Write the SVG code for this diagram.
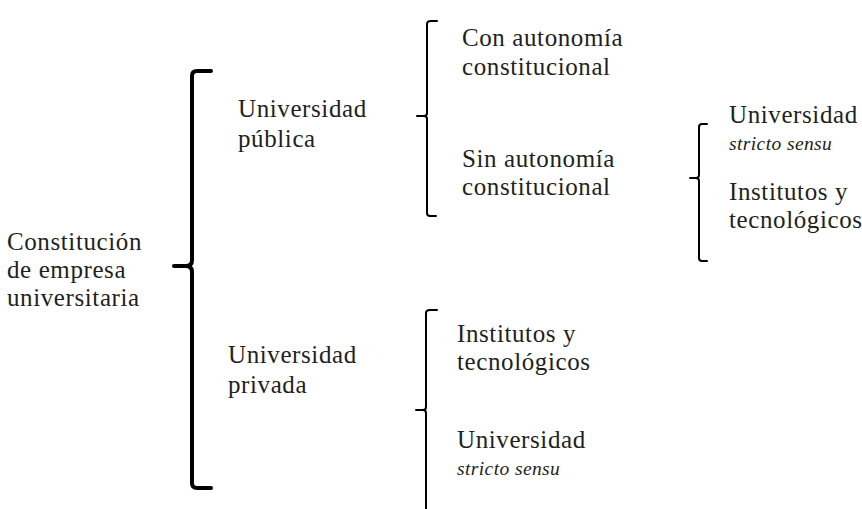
<svg xmlns="http://www.w3.org/2000/svg" width="862" height="509" viewBox="0 0 862 509">
<style>
text{font-family:"Liberation Serif","Times New Roman",serif;fill:#231f20;}
.t{font-size:25px;letter-spacing:0.6px;}
.i{font-size:19.5px;font-style:italic;letter-spacing:0.4px;}
.b{fill:none;stroke:#000;stroke-linecap:round;stroke-linejoin:round;}
.b1{stroke-width:4;}
.b2{stroke-width:2;}
</style>
<rect width="862" height="509" fill="#fff"/>
<g id="connectors">
<path class="b b1" d="M211,71 L197,71 Q192,71 192,76 L192,260 Q192,266 186,266 L174,266 M186,266 Q192,266 192,272 L192,483 Q192,488 197,488 L211,488"/>
<path class="b b2" d="M437,21 L431,21 Q427,21 427,24 L427,113 Q427,116 424,116 L417,116 M424,116 Q427,116 427,119 L427,213 Q427,216 430,216 L436,216"/>
<path class="b b2" d="M707,124 L702,124 Q699,124 699,127 L699,175 Q699,178 696,178 L690,178 M696,178 Q699,178 699,181 L699,258 Q699,261 702,261 L707,261"/>
<path class="b b2" d="M437,310 L430,310 Q426,310 426,313 L426,407 Q426,410 423,410 L416,410 M423,410 Q426,410 426,413 L426,512"/>
</g>
<g id="root"><text class="t" x="7" y="250">Constitución</text><text class="t" x="7" y="278">de empresa</text><text class="t" x="7" y="306">universitaria</text></g>
<g id="publica"><text class="t" x="238" y="117">Universidad</text><text class="t" x="238" y="147">pública</text></g>
<g id="privada"><text class="t" x="228" y="363">Universidad</text><text class="t" x="228" y="393">privada</text></g>
<g id="con-autonomia"><text class="t" x="462" y="46">Con autonomía</text><text class="t" x="462" y="75">constitucional</text></g>
<g id="sin-autonomia"><text class="t" x="462" y="167">Sin autonomía</text><text class="t" x="462" y="195">constitucional</text></g>
<g id="pub-universidad"><text class="t" x="729" y="123">Universidad</text><text class="i" x="729" y="150">stricto sensu</text></g>
<g id="pub-institutos"><text class="t" x="729" y="200">Institutos y</text><text class="t" x="729" y="228">tecnológicos</text></g>
<g id="priv-institutos"><text class="t" x="457" y="342">Institutos y</text><text class="t" x="457" y="370">tecnológicos</text></g>
<g id="priv-universidad"><text class="t" x="457" y="448">Universidad</text><text class="i" x="457" y="475">stricto sensu</text></g>
</svg>
